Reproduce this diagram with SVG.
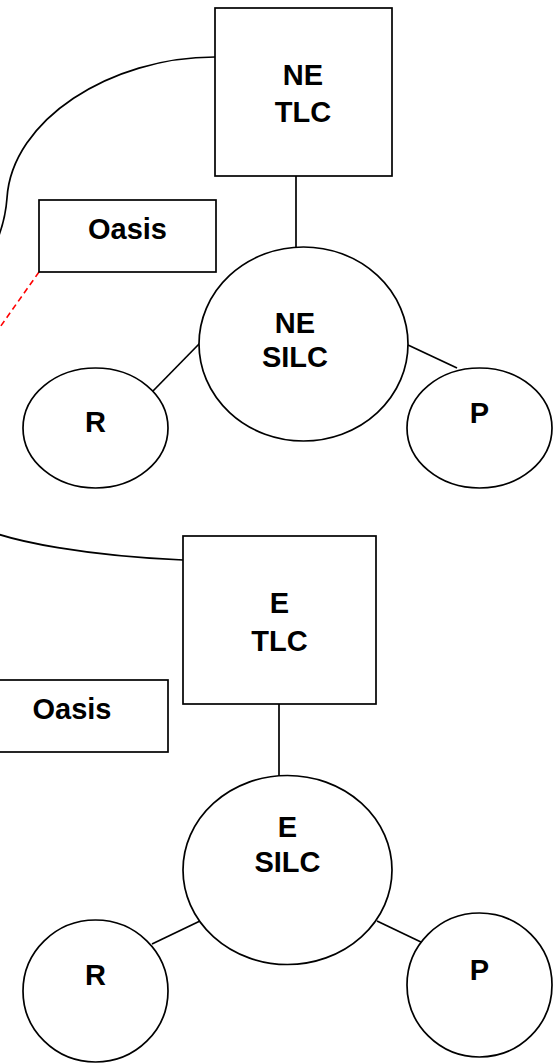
<svg xmlns="http://www.w3.org/2000/svg" width="558" height="1063" viewBox="0 0 558 1063">
<style>
.s{fill:#fff;stroke:#000;stroke-width:1.7}
.c{fill:none;stroke:#000;stroke-width:1.7}
.t{font-family:"Liberation Sans",Arial,sans-serif;font-weight:bold;font-size:29px;fill:#000;text-anchor:middle}
.d{fill:none;stroke:#f00;stroke-width:1.6;stroke-dasharray:6,4}
</style>
<rect width="558" height="1063" fill="#fff"/>
<g id="connectors">
<path class="c" d="M215,57 C110,57 12,120 7,198 C6,212 3,225 -2,238 C-40,330 -60,460 -20,527 C10,542 90,556 183,560"/>
<line class="c" x1="296" y1="176" x2="296" y2="248"/>
<line class="c" x1="200" y1="343" x2="152" y2="392"/>
<line class="c" x1="408" y1="345" x2="457" y2="368"/>
<line class="c" x1="279" y1="704" x2="279" y2="776"/>
<line class="c" x1="200" y1="921" x2="152" y2="944"/>
<line class="c" x1="377" y1="921" x2="423" y2="943"/>
<line class="d" x1="39" y1="272" x2="-2" y2="330"/>
</g>
<g id="ne-tlc">
<rect class="s" x="215" y="8" width="177" height="168"/>
<text class="t" x="303" y="85">NE</text>
<text class="t" x="303" y="122">TLC</text>
</g>
<g id="oasis-1">
<rect class="s" x="39" y="200" width="177" height="72"/>
<text class="t" x="127.5" y="239">Oasis</text>
</g>
<g id="ne-silc">
<ellipse class="s" cx="303.5" cy="344" rx="104.5" ry="97"/>
<text class="t" x="295" y="333">NE</text>
<text class="t" x="295" y="367">SILC</text>
</g>
<g id="ne-r">
<ellipse class="s" cx="95.5" cy="428" rx="72.5" ry="60"/>
<text class="t" x="95.5" y="432">R</text>
</g>
<g id="ne-p">
<ellipse class="s" cx="479.5" cy="428" rx="72.5" ry="60"/>
<text class="t" x="479.5" y="423">P</text>
</g>
<g id="e-tlc">
<rect class="s" x="183" y="536" width="193" height="168"/>
<text class="t" x="279.5" y="613">E</text>
<text class="t" x="279.5" y="651">TLC</text>
</g>
<g id="oasis-2">
<rect class="s" x="-24" y="680" width="192" height="72"/>
<text class="t" x="72" y="719">Oasis</text>
</g>
<g id="e-silc">
<ellipse class="s" cx="287.5" cy="870" rx="104.5" ry="94.5"/>
<text class="t" x="287.5" y="837">E</text>
<text class="t" x="287.5" y="872">SILC</text>
</g>
<g id="e-r">
<ellipse class="s" cx="95.5" cy="991" rx="72.5" ry="71"/>
<text class="t" x="95.5" y="985">R</text>
</g>
<g id="e-p">
<ellipse class="s" cx="479.5" cy="985" rx="72.5" ry="72"/>
<text class="t" x="479.5" y="980">P</text>
</g>
</svg>
